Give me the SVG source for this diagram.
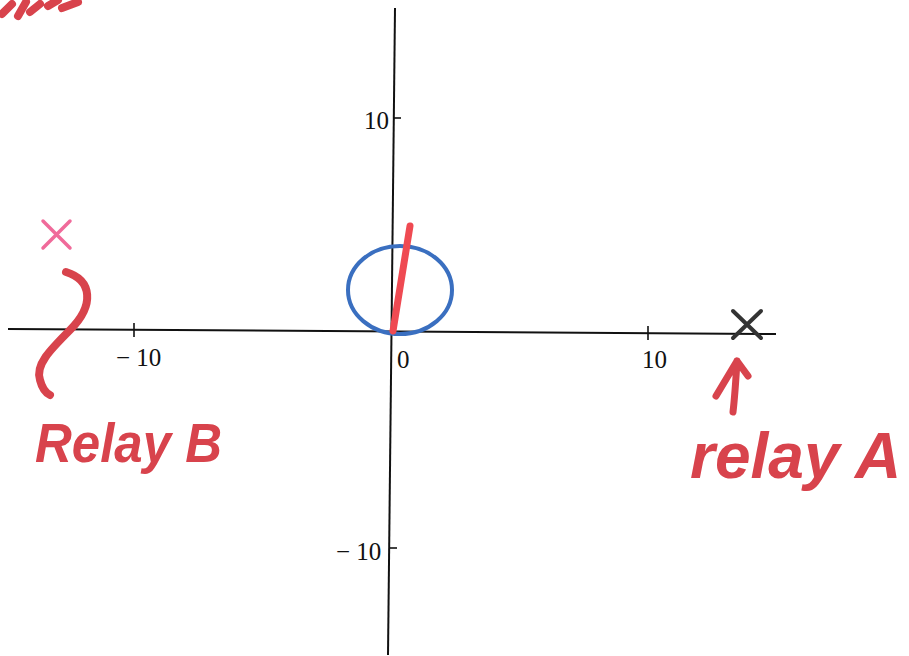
<svg xmlns="http://www.w3.org/2000/svg" width="909" height="656" viewBox="0 0 909 656">
<style>
.ax{stroke:#111;stroke-width:2;fill:none}
.tk{stroke:#111;stroke-width:1.6}
.lbl{font-family:"Liberation Serif",serif;font-size:25px;fill:#111}
.ink{stroke:#d8434c;fill:none;stroke-linecap:round;stroke-linejoin:round}
.hand{font-family:"Liberation Sans",sans-serif;font-weight:bold;fill:#d8434c;font-style:italic}
</style>
<rect width="909" height="656" fill="#fff"/>
<g id="axes">
<line class="ax" x1="8" y1="329" x2="776" y2="334"/>
<line class="ax" x1="395" y1="8" x2="388" y2="655"/>
<line class="tk" x1="134" y1="323" x2="134" y2="337"/>
<line class="tk" x1="648" y1="326" x2="648" y2="340"/>
<line class="tk" x1="393" y1="118" x2="401" y2="118"/>
<line class="tk" x1="389" y1="548" x2="397" y2="548"/>
<text class="lbl" x="116" y="366">− 10</text>
<text class="lbl" x="397" y="368">0</text>
<text class="lbl" x="642" y="368">10</text>
<text class="lbl" x="364" y="129">10</text>
<text class="lbl" x="336" y="560">− 10</text>
</g>
<g id="ellipse">
<ellipse cx="400" cy="290" rx="52" ry="44" fill="none" stroke="#3a6fc0" stroke-width="4"/>
</g>
<g id="redline">
<line x1="393" y1="331" x2="410" y2="226" stroke="#ef4a52" stroke-width="7" stroke-linecap="round"/>
</g>
<g id="xA">
<path d="M733 311 L761 338 M761 311 L733 338" stroke="#333" stroke-width="4" stroke-linecap="round"/>
</g>
<g id="xB">
<path d="M43 221 L70 248 M70 221 L43 248" stroke="#f06a9a" stroke-width="3.5" stroke-linecap="round"/>
</g>
<g id="connectors">
<path class="ink" stroke-width="8" d="M66 272 C92 280 95 305 70 330 C50 350 35 365 40 380 C42 388 46 393 50 395"/>
<path class="ink" stroke-width="7" d="M733 412 C735 395 736 378 737 361 M716 396 L737 361 L748 376"/>
</g>
<g id="labelB">
<text class="hand" x="35" y="462" font-size="56" textLength="187" lengthAdjust="spacingAndGlyphs">Relay B</text>
</g>
<g id="labelA">
<text class="hand" x="690" y="478" font-size="64">relay A</text>
</g>
<g id="scribble">
<path class="ink" stroke-width="8" d="M2 14 L12 4 M18 16 L26 2 M30 12 L40 4 M48 6 L58 0 M62 8 L78 2"/>
</g>
</svg>
